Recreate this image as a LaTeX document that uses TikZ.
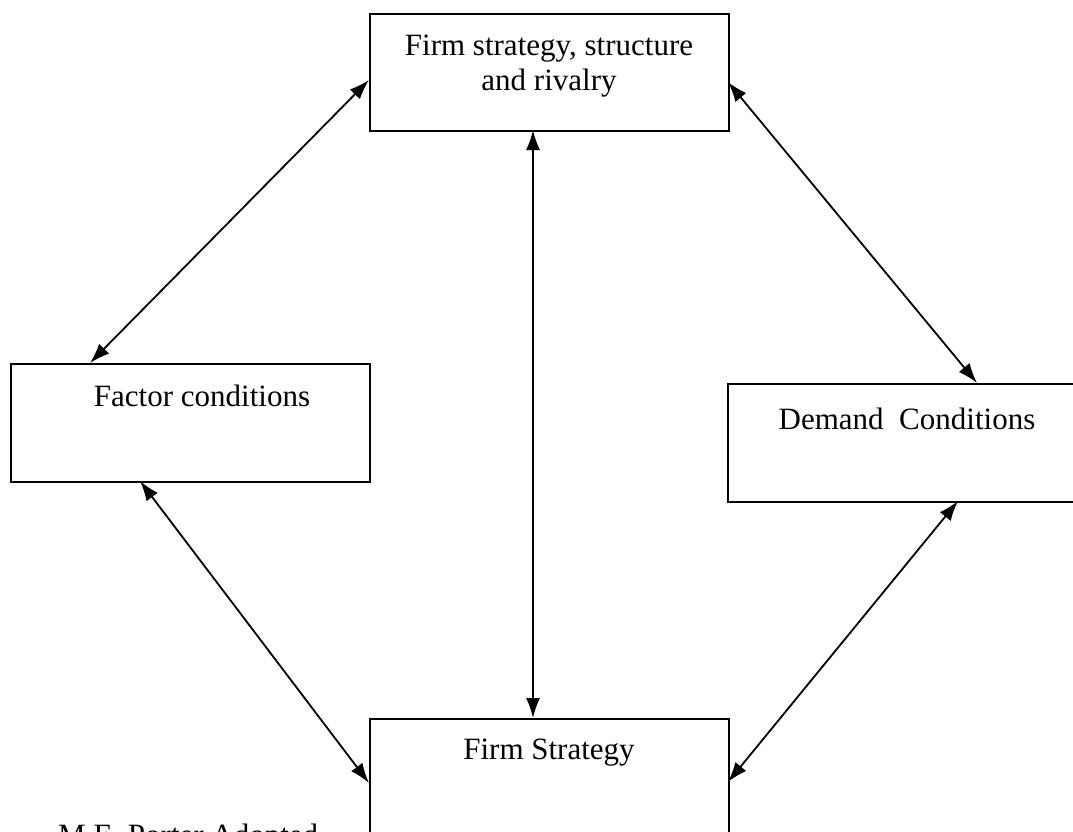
\documentclass[tikz,border=0pt]{standalone}
\usepackage{fontspec}
\setmainfont{Liberation Serif}
\usetikzlibrary{arrows.meta}
\begin{document}
\begin{tikzpicture}[x=1pt,y=-1pt,
  box/.style={draw,line width=1.8pt,inner sep=0pt,anchor=north west},
  lbl/.style={font=\fontsize{31}{35}\selectfont,inner sep=0pt},
  link/.style={line width=1.8pt,{Latex[length=20pt,width=14pt]}-{Latex[length=20pt,width=14pt]}}]
\useasboundingbox (0,0) rectangle (1073,831);
\clip (0,0) rectangle (1073,831);
\node[box,minimum width=359pt,minimum height=117pt] (top) at (369,13) {};
\node[box,minimum width=359pt,minimum height=118pt] (fac) at (10,363) {};
\node[box,minimum width=360pt,minimum height=118pt] (dem) at (727,383) {};
\node[box,minimum width=359pt,minimum height=150pt] (fs) at (369,718) {};
\node[lbl,align=center] (t1) at (549,66) {Firm strategy, structure\\and rivalry};
\node[lbl] (t2) at (202,396) {Factor conditions};
\node[lbl] (t3) at (907,419) {Demand\ \ Conditions};
\node[lbl] (t4) at (549,753) {Firm Strategy};
\node[lbl,anchor=base west] (src) at (58,845) {M.E. Porter Adopted};
\coordinate (a1) at (369,80);
\coordinate (a2) at (90,363);
\coordinate (b1) at (728,82);
\coordinate (b2) at (977,383);
\coordinate (c1) at (533,130);
\coordinate (c2) at (533,718);
\coordinate (d1) at (140,481);
\coordinate (d2) at (369,783);
\coordinate (e1) at (958,501);
\coordinate (e2) at (728,782);
\draw[link] (a1) -- (a2);
\draw[link] (b1) -- (b2);
\draw[link] (c1) -- (c2);
\draw[link] (d1) -- (d2);
\draw[link] (e1) -- (e2);
\end{tikzpicture}
\end{document}
